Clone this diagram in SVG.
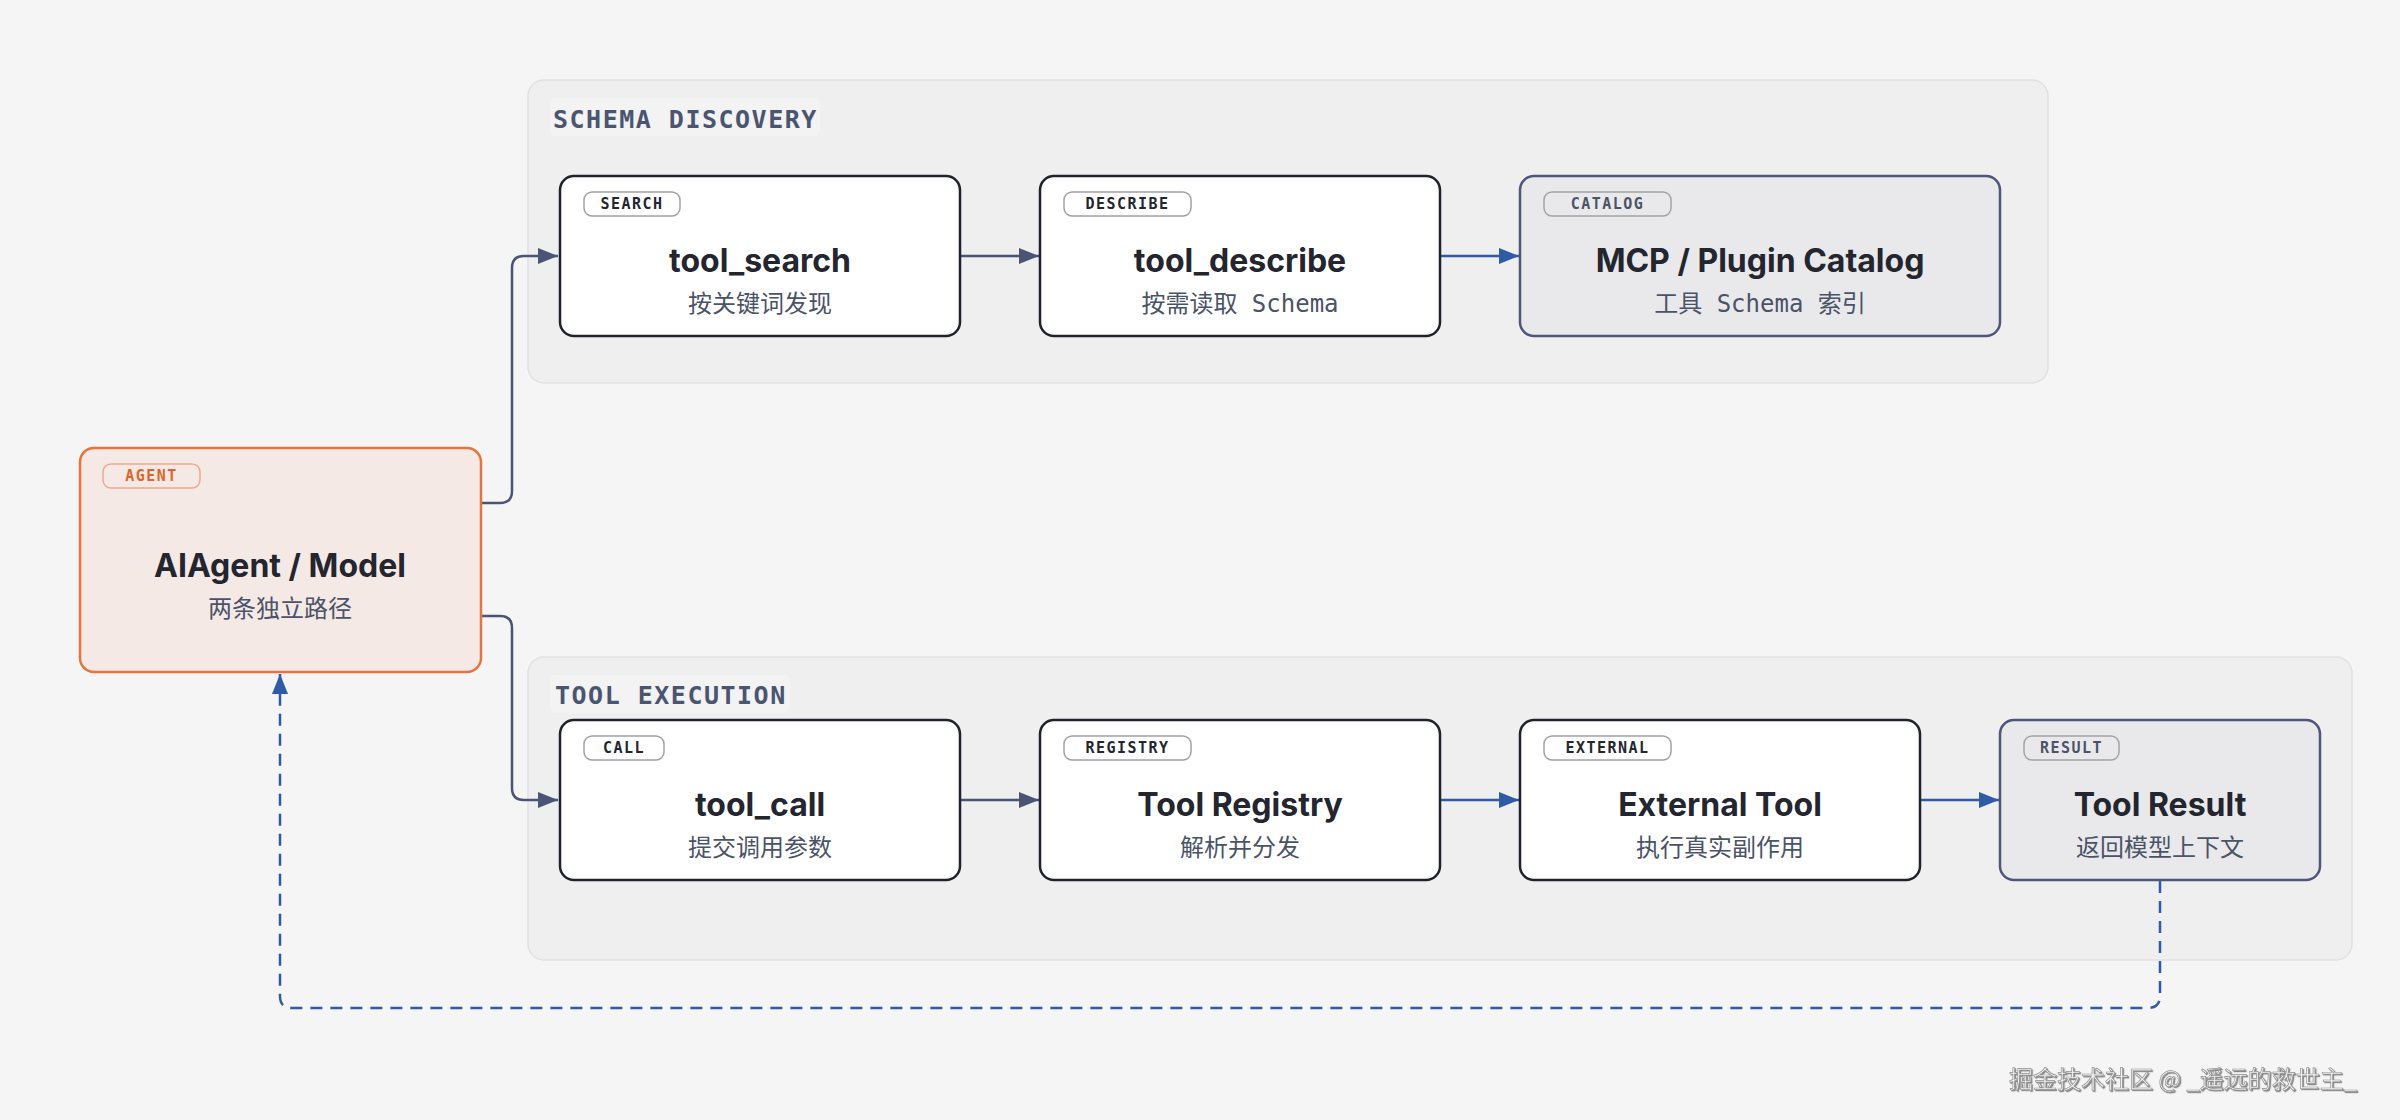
<svg xmlns="http://www.w3.org/2000/svg" width="2400" height="1120" viewBox="0 0 2400 1120">
<defs>
<style>
.grp{fill:#efeff0;stroke:#e1e1e3;stroke-width:1.5}
.glbl-bg{fill:#f3f3f4}
.glbl{font-family:"DejaVu Sans Mono","Liberation Mono",monospace;font-size:25px;font-weight:700;letter-spacing:1.5px;fill:#4a5570}
.node{fill:#ffffff;stroke:#1f2330;stroke-width:2.5}
.node-alt{fill:#e9e9eb;stroke:#4d5878;stroke-width:2.5}
.node-agent{fill:#f5e9e6;stroke:#e8743b;stroke-width:2.5}
.badge{fill:none;stroke:#a3a3a6;stroke-width:1.5}
.badge-agent{fill:none;stroke:#eea98a;stroke-width:1.5}
.btxt{font-family:"DejaVu Sans Mono","Liberation Mono",monospace;font-size:15px;font-weight:700;letter-spacing:1.5px;fill:#23262f;text-anchor:middle}
.btxt-alt{fill:#4a5368}
.btxt-agent{fill:#e0652a}
.title{font-family:Inter,"Liberation Sans",sans-serif;font-size:32px;font-weight:700;fill:#23252f;text-anchor:middle}
.sub{font-family:"DejaVu Sans Mono","Noto Sans CJK SC",monospace;font-size:24px;fill:#4a5368;text-anchor:middle}
.c-slate{fill:none;stroke:#4a5575;stroke-width:2.5}
.c-blue{fill:none;stroke:#2f5aa8;stroke-width:2.5}
.c-dash{fill:none;stroke:#2f5aa8;stroke-width:2.5;stroke-dasharray:12 8}
.wm{font-family:"Noto Sans CJK SC","Noto Sans",sans-serif;font-size:24px;fill:#f4f4f4;stroke:#8f8f8f;stroke-width:0.7}
</style>
<marker id="arr-slate" markerUnits="userSpaceOnUse" markerWidth="20" markerHeight="16" refX="20" refY="8" orient="auto">
<path d="M0,0 L20,8 L0,16 z" fill="#4a5575"/>
</marker>
<marker id="arr-blue" markerUnits="userSpaceOnUse" markerWidth="20" markerHeight="16" refX="20" refY="8" orient="auto">
<path d="M0,0 L20,8 L0,16 z" fill="#2f5aa8"/>
</marker>
<filter id="emb" x="-5%" y="-20%" width="110%" height="140%">
<feDropShadow dx="1.2" dy="1.2" stdDeviation="0.6" flood-color="#555" flood-opacity="0.7"/>
</filter>
</defs>
<rect x="0" y="0" width="2400" height="1120" fill="#f5f5f6"/>

<g id="group-schema">
<rect class="grp" x="528" y="80" width="1520" height="303" rx="16"/>
<rect class="glbl-bg" x="550" y="98" width="270" height="38" rx="6"/>
<text class="glbl" x="553" y="128">SCHEMA DISCOVERY</text>
</g>
<g id="group-exec">
<rect class="grp" x="528" y="657" width="1824" height="303" rx="16"/>
<rect class="glbl-bg" x="550" y="675" width="240" height="38" rx="6"/>
<text class="glbl" x="555" y="704">TOOL EXECUTION</text>
</g>

<g id="connectors">
<path class="c-slate" d="M481,503 H500 Q512,503 512,491 V268 Q512,256 524,256 H558" marker-end="url(#arr-slate)"/>
<path class="c-slate" d="M481,616 H500 Q512,616 512,628 V788 Q512,800 524,800 H558" marker-end="url(#arr-slate)"/>
<path class="c-slate" d="M960,256 H1039" marker-end="url(#arr-slate)"/>
<path class="c-blue" d="M1440,256 H1519" marker-end="url(#arr-blue)"/>
<path class="c-slate" d="M960,800 H1039" marker-end="url(#arr-slate)"/>
<path class="c-blue" d="M1440,800 H1519" marker-end="url(#arr-blue)"/>
<path class="c-blue" d="M1920,800 H1999" marker-end="url(#arr-blue)"/>
<path class="c-dash" d="M2160,881 V996 Q2160,1008 2148,1008 H292 Q280,1008 280,996 V674" marker-end="url(#arr-blue)"/>
</g>

<g id="node-agent">
<rect class="node-agent" x="80" y="448" width="401" height="224" rx="14"/>
<rect class="badge-agent" x="103" y="464" width="97" height="24" rx="8"/>
<text class="btxt btxt-agent" x="151.5" y="481">AGENT</text>
<text class="title" x="280" y="577">AIAgent / Model</text>
<text class="sub" x="280" y="617">两条独立路径</text>
</g>

<g id="node-tool-search">
<rect class="node" x="560" y="176" width="400" height="160" rx="14"/>
<rect class="badge" x="584" y="192" width="96" height="24" rx="8"/>
<text class="btxt" x="632" y="209">SEARCH</text>
<text class="title" x="760" y="272">tool_search</text>
<text class="sub" x="760" y="312">按关键词发现</text>
</g>

<g id="node-tool-describe">
<rect class="node" x="1040" y="176" width="400" height="160" rx="14"/>
<rect class="badge" x="1064" y="192" width="127" height="24" rx="8"/>
<text class="btxt" x="1127.5" y="209">DESCRIBE</text>
<text class="title" x="1240" y="272">tool_describe</text>
<text class="sub" x="1240" y="312">按需读取 Schema</text>
</g>

<g id="node-catalog">
<rect class="node-alt" x="1520" y="176" width="480" height="160" rx="14"/>
<rect class="badge" x="1544" y="192" width="127" height="24" rx="8"/>
<text class="btxt btxt-alt" x="1607.5" y="209">CATALOG</text>
<text class="title" x="1760" y="272">MCP / Plugin Catalog</text>
<text class="sub" x="1760" y="312">工具 Schema 索引</text>
</g>

<g id="node-tool-call">
<rect class="node" x="560" y="720" width="400" height="160" rx="14"/>
<rect class="badge" x="584" y="736" width="80" height="24" rx="8"/>
<text class="btxt" x="624" y="753">CALL</text>
<text class="title" x="760" y="816">tool_call</text>
<text class="sub" x="760" y="856">提交调用参数</text>
</g>

<g id="node-registry">
<rect class="node" x="1040" y="720" width="400" height="160" rx="14"/>
<rect class="badge" x="1064" y="736" width="127" height="24" rx="8"/>
<text class="btxt" x="1127.5" y="753">REGISTRY</text>
<text class="title" x="1240" y="816">Tool Registry</text>
<text class="sub" x="1240" y="856">解析并分发</text>
</g>

<g id="node-external">
<rect class="node" x="1520" y="720" width="400" height="160" rx="14"/>
<rect class="badge" x="1544" y="736" width="127" height="24" rx="8"/>
<text class="btxt" x="1607.5" y="753">EXTERNAL</text>
<text class="title" x="1720" y="816">External Tool</text>
<text class="sub" x="1720" y="856">执行真实副作用</text>
</g>

<g id="node-result">
<rect class="node-alt" x="2000" y="720" width="320" height="160" rx="14"/>
<rect class="badge" x="2024" y="736" width="95" height="24" rx="8"/>
<text class="btxt btxt-alt" x="2071.5" y="753">RESULT</text>
<text class="title" x="2160" y="816">Tool Result</text>
<text class="sub" x="2160" y="856">返回模型上下文</text>
</g>

<text class="wm" x="2009" y="1088" filter="url(#emb)">掘金技术社区 @ _遥远的救世主_</text>
</svg>
